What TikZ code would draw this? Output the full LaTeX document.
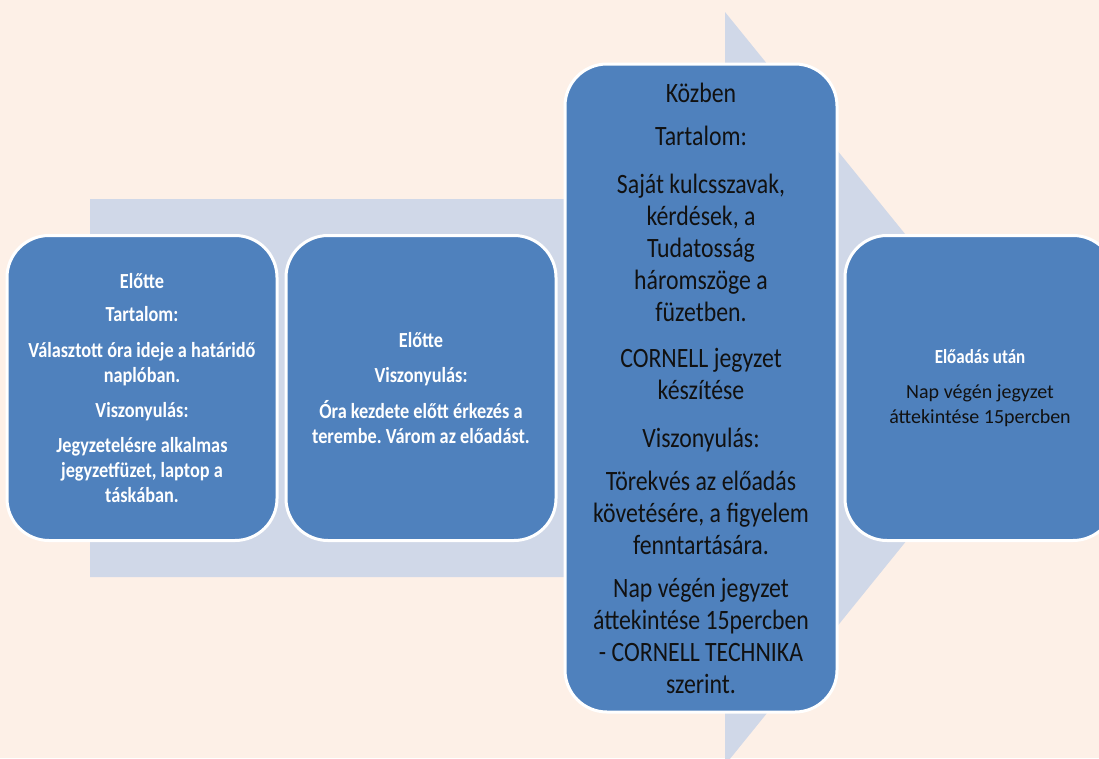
\documentclass[tikz,border=0pt]{standalone}
\usepackage{fontspec}
\setmainfont{Carlito}[FakeStretch=0.85]
\newfontfamily\widefont{Carlito}
\frenchspacing
\definecolor{paper}{HTML}{FDF0E7}
\definecolor{flow}{HTML}{D0D8E8}
\definecolor{cardblue}{HTML}{4F81BD}
\definecolor{ink}{HTML}{111111}

\begin{document}
\begin{tikzpicture}[x=1pt,y=-1pt,
  cardbox/.style={draw=white,line width=3pt,fill=cardblue,
    rounded corners=42pt,minimum width=270pt,align=center,inner sep=4pt},
  smalltext/.style={font=\fontsize{21.5}{25}\selectfont},
  bigtext/.style={font=\fontsize{28}{32}\selectfont}]
\clip (0,0) rectangle (1099,758);
\fill[paper] (0,0) rectangle (1099,758);

% big arrow behind the cards
\fill[flow] (90,199)--(725,199)--(725,12)--(1030,388)
    --(725,765)--(725,577)--(90,577)--cycle;

\node[cardbox,smalltext,minimum height=305pt,text=white] (before1) at (142,388)
  {\bfseries Előtte\\[8pt]
   \bfseries Tartalom:\\[11pt]
   \bfseries Választott óra ideje a határidő\\
   \bfseries naplóban.\\[10pt]
   \bfseries Viszonyulás:\\[10pt]
   \bfseries Jegyzetelésre alkalmas\\
   \bfseries jegyzetfüzet, laptop a\\
   \bfseries táskában.};

\node[cardbox,smalltext,minimum height=305pt,text=white] (before2) at (421,388)
  {\bfseries Előtte\\[10pt]
   \bfseries Viszonyulás:\\[11pt]
   \bfseries Óra kezdete előtt érkezés a\\
   \bfseries terembe. Várom az előadást.};

\node[cardbox,bigtext,minimum width=272pt,minimum height=648pt,text=ink] (during) at (701,388)
  {Közben\\[11pt]
   Tartalom:\\[16pt]
   Saját kulcsszavak,\\ kérdések, a\\ Tudatosság\\ háromszöge a\\ füzetben.\\[14pt]
   CORNELL jegyzet\\ készítése\\[16pt]
   Viszonyulás:\\[11pt]
   Törekvés az előadás\\ követésére, a figyelem\\ fenntartására.\\[11pt]
   Nap végén jegyzet\\ áttekintése 15percben\\ - CORNELL TECHNIKA\\ szerint.};

\node[cardbox,font=\fontsize{20}{25}\selectfont,minimum height=305pt,text=ink] (after) at (980,388)
  {\textcolor{white}{\bfseries Előadás után}\\[10pt]
   \widefont Nap végén jegyzet\\ \widefont áttekintése 15percben};
\end{tikzpicture}
\end{document}
